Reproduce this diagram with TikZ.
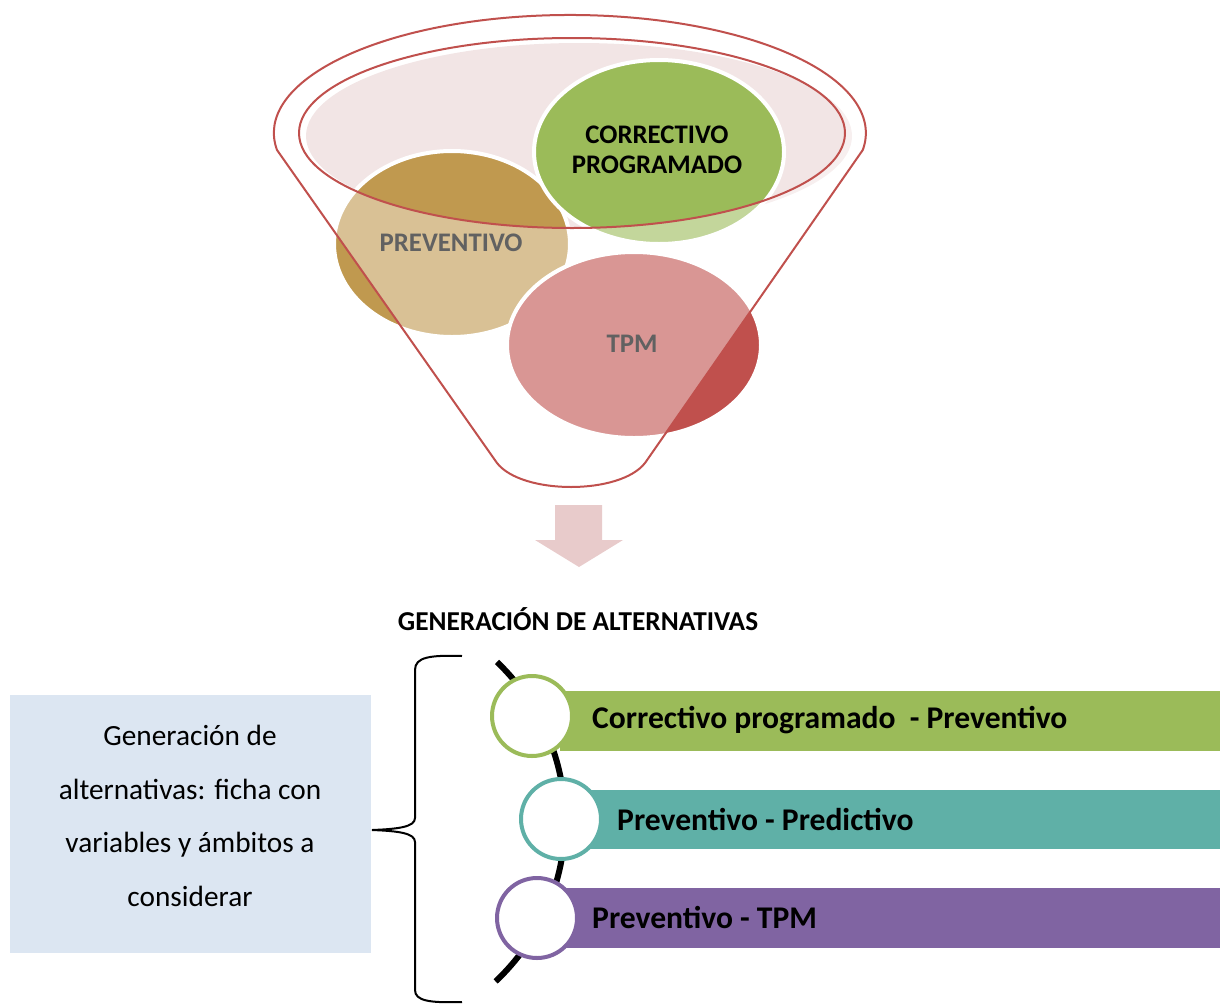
\documentclass[tikz,border=0pt]{standalone}
\usepackage{fontspec}
\setmainfont{Carlito}
\usetikzlibrary{shapes.geometric}
\definecolor{funnelred}{HTML}{C0504D}
\definecolor{funnelpink}{HTML}{F2E5E5}
\definecolor{cgreen}{HTML}{9BBB59}
\definecolor{cbrown}{HTML}{C0994F}
\definecolor{cteal}{HTML}{5FB0A7}
\definecolor{cpurple}{HTML}{8064A2}
\definecolor{arrowpink}{HTML}{E8CBCB}
\definecolor{boxblue}{HTML}{DCE6F2}
\definecolor{labelgray}{HTML}{616161}
\tikzset{
  blob/.style={ellipse, draw=white, line width=4pt, inner sep=0pt},
  bloblabel/.style={font=\bfseries\fontsize{26.8}{30}\selectfont, align=center},
  ring/.style={circle, fill=white, line width=4pt, minimum size=80pt, inner sep=0pt},
  bartext/.style={anchor=west, inner sep=0pt, font=\bfseries\fontsize{31.6}{34}\selectfont},
  funnelline/.style={draw=funnelred, line width=2pt},
}
\begin{document}
\begin{tikzpicture}[x=1pt,y=-1pt]
\useasboundingbox (0,0) rectangle (1220,1004);

% funnel mouth fill
\fill[funnelpink] (579,136) ellipse[x radius=273, y radius=93];

% coloured discs in the funnel
\node[blob, fill=cbrown, minimum width=236pt, minimum height=186pt] (prev) at (452,244) {};
\node[blob, fill=cgreen, minimum width=250pt, minimum height=184pt] (corr) at (659,152) {};
\node[blob, fill=funnelred, minimum width=254pt, minimum height=186pt] (tpm) at (634,345) {};

% translucent funnel body (mouth left clear)
\fill[white, fill opacity=0.4, even odd rule]
  (277,150) arc[start angle=171.7, end angle=368.3, x radius=296, y radius=118]
  -- (645,463) .. controls (620,495) and (522,495) .. (497,463) -- cycle
  (572,133) ellipse[x radius=273, y radius=95];

% funnel outline
\draw[funnelline, line join=round]
  (277,150) arc[start angle=171.7, end angle=368.3, x radius=296, y radius=118]
  -- (645,463) .. controls (620,495) and (522,495) .. (497,463) -- cycle;
\draw[funnelline] (572,133) ellipse[x radius=273, y radius=95];

% disc labels
\node[bloblabel] (corrlabel) at (657,150) {CORRECTIVO\\PROGRAMADO};
\node[bloblabel, text=labelgray] (prevlabel) at (451,243) {PREVENTIVO};
\node[bloblabel, text=labelgray] (tpmlabel) at (632,344) {TPM};

% down arrow
\fill[arrowpink] (555,505) -- (602,505) -- (602,540) -- (623,540) -- (579,567)
  -- (535,540) -- (555,540) -- cycle;
\coordinate (arrowtip) at (579,567);

\node[font=\bfseries\fontsize{27.3}{30}\selectfont] (title) at (578,619) {GENERACIÓN DE ALTERNATIVAS};

% description box
\node[fill=boxblue, minimum width=361pt, minimum height=258pt, inner sep=0pt] (desc) at (190.5,824) {};
\node[align=center, font=\fontsize{29.3}{53.5}\selectfont, inner sep=0pt] (desctext) at (190,816)
  {Generación de\\alternativas: ficha con\\variables y ámbitos a\\considerar};

% curly brace
\coordinate (bracetop) at (462,656);
\coordinate (bracetip) at (372,830);
\coordinate (bracebot) at (462,1002);
\draw[line width=2pt] (bracetop) .. controls (430,655) and (415,657) .. (415,670)
  -- (415,818) .. controls (415,827) and (398,829) .. (bracetip)
  .. controls (398,831) and (415,833) .. (415,842)
  -- (415,990) .. controls (415,1001) and (430,1003) .. (bracebot);

% timeline arc
\draw[line width=6pt] (345,821) ++(-46.3:220) arc[start angle=-46.3, end angle=46.8, radius=220];

% bars
\fill[cgreen] (560,691) rectangle (1220,751);
\fill[cteal] (590,790) rectangle (1220,849);
\fill[cpurple] (565,888) rectangle (1220,948);

% rings
\node[ring, draw=cgreen] (ring1) at (532,716) {};
\node[ring, draw=cteal] (ring2) at (561,819) {};
\node[ring, draw=cpurple] (ring3) at (537,918) {};

% bar labels
\node[bartext] (bar1) at (592,720) {Correctivo programado\ \ - Preventivo};
\node[bartext] (bar2) at (617,819) {Preventivo - Predictivo};
\node[bartext] (bar3) at (592,917) {Preventivo - TPM};
\end{tikzpicture}
\end{document}
